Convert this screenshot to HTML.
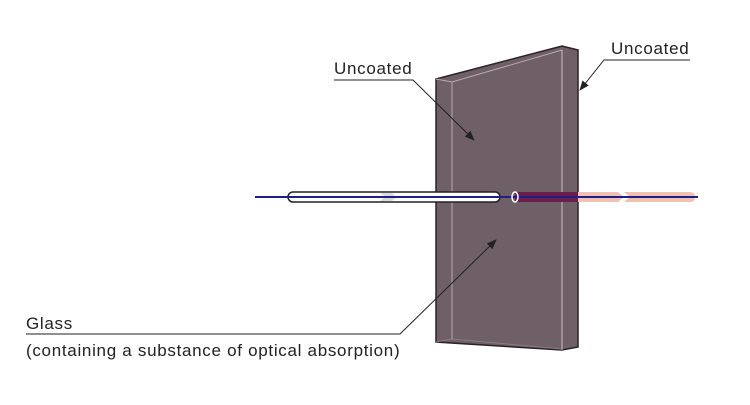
<!DOCTYPE html>
<html><head><meta charset="utf-8"><style>
body{margin:0;background:#fff;width:750px;height:400px;overflow:hidden}
svg text{font-family:"Liberation Sans",sans-serif;font-size:17px;letter-spacing:0.7px;fill:#222}
</style></head><body>
<svg width="750" height="400" viewBox="0 0 750 400" xmlns="http://www.w3.org/2000/svg">
<defs>
<marker id="ah" markerWidth="10" markerHeight="8" refX="9" refY="4" orient="auto" markerUnits="userSpaceOnUse">
<path d="M0,0 L10,4 L0,8 z" fill="#222"/></marker>
</defs>
<polygon points="436,79 562,46 578,50 578,347 562,350 436,342" fill="#6f5f66" stroke="#2a2226" stroke-width="1.5"/>
<polyline points="436,79 452,82 562,50" fill="none" stroke="#b8aab0" stroke-width="1"/>
<line x1="452" y1="82" x2="452" y2="340" stroke="#b8aab0" stroke-width="1"/>
<line x1="562" y1="50" x2="562" y2="350" stroke="#c8bcc2" stroke-width="1"/>
<polyline points="436,342 452,339 562,349" fill="none" stroke="#8a7a82" stroke-width="1"/>
<rect x="515" y="192" width="63" height="10" fill="#6a1f4a"/>
<path d="M578,192 H618 L624,197 L618,202 H578 Z" fill="#f0c0b0"/>
<path d="M624,192 H690 Q695,192 695,197 Q695,202 690,202 H624 L630,197 Z" fill="#f0c0b0"/>
<rect x="288" y="192" width="212" height="10" rx="5" fill="#fff" stroke="#222" stroke-width="1.5"/>
<path d="M380,193 L392,193 L397,197 L392,201 L380,201 L385,197 Z" fill="#ddd"/>
<line x1="255" y1="197" x2="698" y2="197" stroke="#1f1f8a" stroke-width="2"/>
<ellipse cx="515" cy="197" rx="3" ry="5" fill="none" stroke="#fff" stroke-width="1.5"/>
<text x="334" y="74">Uncoated</text>
<polyline points="334,80 413,80 474,140" fill="none" stroke="#222" stroke-width="1" marker-end="url(#ah)"/>
<text x="611" y="54">Uncoated</text>
<polyline points="690,60 604,60 580,90" fill="none" stroke="#222" stroke-width="1" marker-end="url(#ah)"/>
<text x="26" y="329">Glass</text>
<text x="26" y="356">(containing a substance of optical absorption)</text>
<polyline points="26,334 400,334 496,240" fill="none" stroke="#222" stroke-width="1" marker-end="url(#ah)"/>
</svg>
</body></html>
